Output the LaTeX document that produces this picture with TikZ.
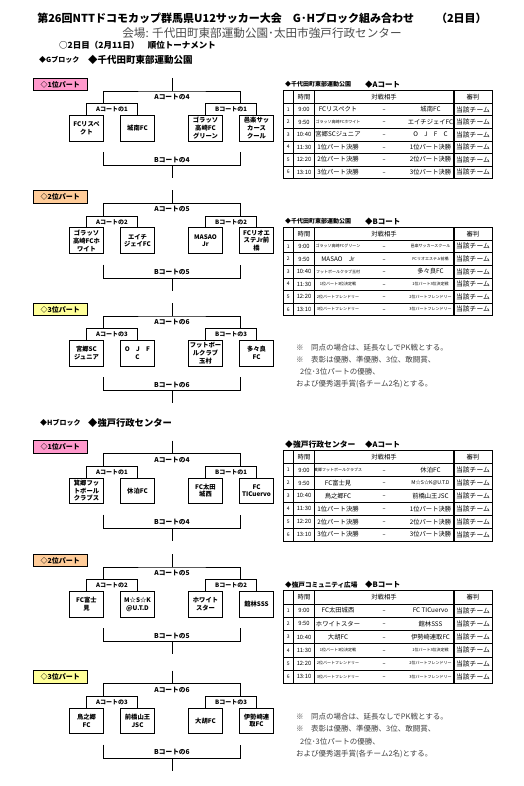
\documentclass[tikz,border=0pt]{standalone}
\usepackage{fontspec}
\setmainfont{Noto Sans CJK JP}
\newfontfamily\dashfont{DejaVu Sans}
\usepackage{xcolor}
\usepackage{tikz}
\usetikzlibrary{positioning}

\definecolor{partpink}{RGB}{255,153,204}
\definecolor{partorange}{RGB}{255,204,153}
\definecolor{partyellow}{RGB}{255,255,153}
\newcommand{\smtxt}[1]{{\fontsize{4}{4.5}\selectfont #1}}
\newcommand{\slottime}[1]{\ifcase#1\or 9:00\or 9:50\or 10:40\or 11:30\or 12:20\or 13:10\fi}

\begin{document}
\begin{tikzpicture}[
    x=1pt, y=-1pt,
    team/.style={draw, line width=0.7pt, minimum width=34pt, minimum height=25.7pt, inner sep=0pt, align=center, font=\fontsize{6.3}{7.8}\selectfont\bfseries},
    court/.style={inner sep=0pt, font=\fontsize{6.7}{7}\selectfont\bfseries},
    subcourt/.style={inner sep=0pt, font=\fontsize{6}{7}\selectfont\bfseries},
    part/.style={draw, line width=0.6pt, minimum width=54pt, minimum height=12.5pt, anchor=south west, inner sep=0pt, font=\fontsize{7}{8}\selectfont\bfseries},
    wire/.style={line width=0.6pt},
    cell/.style={inner sep=0pt, font=\fontsize{6.3}{7}\selectfont},
    rowline/.style={line width=0.5pt},
    tabline/.style={line width=0.9pt},
    heading/.style={anchor=west, inner sep=0pt},
    note/.style={anchor=west, inner sep=0pt, text=black!75, font=\fontsize{7.5}{9}\selectfont}
]
\path[fill=white, use as bounding box] (0,0) rectangle (524,786);

% Title and headings
\node[font=\fontsize{11}{13}\selectfont\bfseries] (title) at (262,18) {第26回NTTドコモカップ群馬県U12サッカー大会　G･Hブロック組み合わせ　　（2日目）};
\node[font=\fontsize{11.6}{14}\selectfont, text=black!70] (venue) at (262,33) {会場: 千代田町東部運動公園･太田市強戸行政センター};
\node[heading, font=\fontsize{8.5}{10}\selectfont\bfseries] (day) at (59,45) {○2日目（2月11日）　順位トーナメント};
\node[heading, font=\fontsize{7}{8}\selectfont\bfseries] (gblock) at (39,60) {◆Gブロック};
\node[heading, font=\fontsize{9.5}{11}\selectfont\bfseries] (gsite) at (88,60) {◆千代田町東部運動公園};
\node[heading, font=\fontsize{7}{8}\selectfont\bfseries] (hblock) at (40,423) {◆Hブロック};
\node[heading, font=\fontsize{9.3}{11}\selectfont\bfseries] (hsite) at (88,423) {◆強戸行政センター};

% Brackets
\foreach \p/\y/\k/\col/\ta/\tb/\tc/\td in {
    g1/91/1/partpink/{FCリスペ\\クト}/{城南FC}/{ゴラッソ\\高崎FC\\グリーン}/{邑楽サッ\\カース\\クール},
    g2/203.5/2/partorange/{ゴラッソ\\高崎FCホ\\ワイト}/{エイチ\\ジェイFC}/{MASAO\\Jr}/{FCリオエ\\ステJr前\\橋},
    g3/316/3/partyellow/{宮郷SC\\ジュニア}/{O　J　F\\C}/{フットボー\\ルクラブ\\玉村}/{多々良\\FC},
    h1/453.5/1/partpink/{箕郷フッ\\トボール\\クラブス}/{休泊FC}/{FC太田\\城西}/{FC\\TICuervo},
    h2/567/2/partorange/{FC富士\\見}/{M☆S☆K\\@U.T.D}/{ホワイト\\スター}/{館林SSS},
    h3/683.5/3/partyellow/{鳥之郷\\FC}/{前橋山王\\JSC}/{大胡FC}/{伊勢崎連\\取FC}}{
    \pgfmathtruncatemacro{\m}{\k+3}
    \node[part, fill=\col] (\p-part) at (33,\y) {◇\k 位パート};
    \node[team] (\p-t1) at (86.5,\y+37.2) {\ta};
    \node[team] (\p-t2) at (137.5,\y+37.2) {\tb};
    \node[team] (\p-t3) at (205.5,\y+37.2) {\tc};
    \node[team] (\p-t4) at (256.5,\y+37.2) {\td};
    \node[court] (\p-ma) at (172,\y+6) {Aコートの\m};
    \node[subcourt] (\p-sa) at (112,\y+18.6) {Aコートの\k};
    \node[subcourt] (\p-sb) at (231,\y+18.6) {Bコートの\k};
    \node[court] (\p-mb) at (172,\y+68.6) {Bコートの\m};
    \coordinate (\p-top) at (172,\y-13);
    \coordinate (\p-m) at (172,\y);
    \coordinate (\p-ml) at (103,\y+12.6);
    \coordinate (\p-mr) at (240,\y+12.6);
    \coordinate (\p-sl) at (112,\y+12.6);
    \coordinate (\p-sr) at (231,\y+12.6);
    \coordinate (\p-bl) at (103,\y+61);
    \coordinate (\p-br) at (240,\y+61);
    \coordinate (\p-b) at (172,\y+74.3);
    \coordinate (\p-tail) at (172,\y+87);
    \draw[wire] (\p-top) -- (\p-m);
    \draw[wire] (\p-ml) |- (\p-m) -| (\p-mr);
    \draw[wire] (\p-t1.north) |- (\p-sl) -| (\p-t2.north);
    \draw[wire] (\p-t3.north) |- (\p-sr) -| (\p-t4.north);
    \draw[wire] (\p-bl) |- (\p-b) -| (\p-br);
    \draw[wire] (\p-b) -- (\p-tail);
}

% Timetables
\foreach \tname/\ty/\by/\fs/\tsite/\tcourt/\trows in {
    ga/90.7/178.3/6/{◆千代田町東部運動公園}/{◆Aコート}/{{FCリスペクト}/{城南FC},{\smtxt{ゴラッソ高崎FCホワイト}}/{エイチジェイFC},{宮郷SCジュニア}/{O　J　F　C},{1位パート決勝}/{1位パート決勝},{2位パート決勝}/{2位パート決勝},{3位パート決勝}/{3位パート決勝}},
    gb/227.5/315.7/6/{◆千代田町東部運動公園}/{◆Bコート}/{{\smtxt{ゴラッソ高崎FCグリーン}}/{\smtxt{邑楽サッカースクール}},{MASAO　Jr}/{\smtxt{FCリオエステJr前橋}},{\smtxt{フットボールクラブ玉村}}/{多々良FC},{\smtxt{1位パート3位決定戦}}/{\smtxt{1位パート3位決定戦}},{\smtxt{2位パートフレンドリー}}/{\smtxt{2位パートフレンドリー}},{\smtxt{3位パートフレンドリー}}/{\smtxt{3位パートフレンドリー}}},
    ha/450.7/541/7.8/{◆強戸行政センター}/{◆Aコート}/{{\smtxt{箕郷フットボールクラブス}}/{休泊FC},{FC富士見}/{\fontsize{5.2}{6}\selectfont M☆S☆K@U.T.D},{鳥之郷FC}/{前橋山王JSC},{1位パート決勝}/{1位パート決勝},{2位パート決勝}/{2位パート決勝},{3位パート決勝}/{3位パート決勝}},
    hb/590.7/683.3/6.6/{◆強戸コミュニティ広場}/{◆Bコート}/{{FC太田城西}/{FC TICuervo},{ホワイトスター}/{館林SSS},{大胡FC}/{伊勢崎連取FC},{\smtxt{1位パート3位決定戦}}/{\smtxt{1位パート3位決定戦}},{\smtxt{2位パートフレンドリー}}/{\smtxt{2位パートフレンドリー}},{\smtxt{3位パートフレンドリー}}/{\smtxt{3位パートフレンドリー}}}}{
    \pgfmathsetmacro{\rh}{(\by-\ty)/7}
    \node[heading, font=\fontsize{\fs}{8}\selectfont\bfseries] (\tname-site) at (285,\ty-6) {\tsite};
    \node[heading, font=\fontsize{7.5}{8}\selectfont\bfseries] (\tname-court) at (365,\ty-6) {\tcourt};
    \draw[tabline] (283.3,\ty) rectangle (492.3,\by);
    \foreach \j in {1,...,6} \draw[rowline] (283.3,\ty+\j*\rh) -- (492.3,\ty+\j*\rh);
    \foreach \cx in {293.3,314.3} \draw[rowline] (\cx,\ty) -- (\cx,\by);
    \draw[line width=1.2pt] (454,\ty) -- (454,\by);
    \node[cell] (\tname-hd1) at (304,\ty+0.5*\rh) {時間};
    \node[cell] (\tname-hd2) at (384,\ty+0.5*\rh) {対戦相手};
    \node[cell] (\tname-hd3) at (473,\ty+0.5*\rh) {審判};
    \foreach \l/\r [count=\i] in \trows {
        \pgfmathsetmacro{\ry}{\ty+(\i+0.5)*\rh}
        \node[cell, font=\fontsize{5}{6}\selectfont] (\tname-n\i) at (288.3,\ry) {\i};
        \node[cell, font=\fontsize{5.8}{6}\selectfont] (\tname-t\i) at (304,\ry) {\slottime{\i}};
        \node[cell] (\tname-l\i) at (338,\ry) {\l};
        \node[cell, anchor=base, font=\fontsize{6}{7}\dashfont] (\tname-v\i) at (384,\ry+2) {–};
        \node[cell] (\tname-r\i) at (430.5,\ry) {\r};
        \node[cell, font=\fontsize{6.8}{8}\selectfont] (\tname-j\i) at (473,\ry) {当該チーム};
    }
}

% Notes
\foreach \blk/\ya/\yb/\yc/\yd in {g/348/359.5/372/384.5, h/717/729/742/754.5}{
    \node[note] (\blk-note1) at (296,\ya) {※　同点の場合は、延長なしでPK戦とする。};
    \node[note] (\blk-note2) at (296,\yb) {※　表彰は優勝、準優勝、3位、敢闘賞、};
    \node[note] (\blk-note3) at (300,\yc) {2位･3位パートの優勝、};
    \node[note] (\blk-note4) at (296,\yd) {および優秀選手賞(各チーム2名)とする。};
}

\end{tikzpicture}
\end{document}
